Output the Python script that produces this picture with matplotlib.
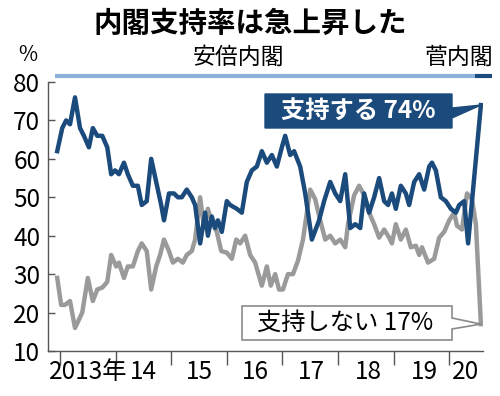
import matplotlib.pyplot as plt
from matplotlib.patches import Polygon

# Nikkei poll: cabinet approval / disapproval (%), by decimal year
support_x = [2012.95, 2013.04, 2013.11, 2013.18, 2013.27, 2013.36, 2013.43, 2013.52,
             2013.59, 2013.67, 2013.76, 2013.85, 2013.92, 2013.99, 2014.06, 2014.15,
             2014.22, 2014.31, 2014.40, 2014.47, 2014.56, 2014.64, 2014.73, 2014.82,
             2014.87, 2014.96, 2015.05, 2015.12, 2015.19, 2015.28, 2015.37, 2015.43,
             2015.52, 2015.61, 2015.66, 2015.73, 2015.79, 2015.84, 2015.91, 2016.00,
             2016.06, 2016.18, 2016.27, 2016.36, 2016.45, 2016.54, 2016.63, 2016.72,
             2016.81, 2016.90, 2016.99, 2017.05, 2017.14, 2017.21, 2017.32, 2017.41,
             2017.53, 2017.66, 2017.75, 2017.86, 2017.95, 2018.04, 2018.13, 2018.22,
             2018.31, 2018.40, 2018.47, 2018.56, 2018.65, 2018.74, 2018.83, 2018.90,
             2018.97, 2019.04, 2019.13, 2019.22, 2019.28, 2019.37, 2019.46, 2019.55,
             2019.64, 2019.69, 2019.76, 2019.85, 2019.94, 2020.03, 2020.12, 2020.18,
             2020.27, 2020.34, 2020.57]
support = [62, 68, 70, 69, 76, 68, 66, 63,
           68, 66, 66, 63, 56, 57, 56, 59,
           56, 53, 53, 48, 49, 60, 54, 48,
           44, 51, 51, 50, 50, 52, 50, 48,
           38, 46, 40, 45, 42, 44, 41, 49,
           48, 47, 46, 54, 57, 58, 62, 59,
           61, 58, 63, 66, 61, 62, 58, 51,
           39, 44, 49, 54, 51, 49, 56, 42,
           43, 42, 51, 46, 50, 55, 49, 48,
           51, 47, 53, 51, 48, 54, 56, 52,
           58, 59, 57, 50, 49, 47, 46, 48,
           49, 38, 74]

oppose_x = [2012.95, 2013.02, 2013.09, 2013.18, 2013.27, 2013.40, 2013.50, 2013.59,
            2013.67, 2013.76, 2013.85, 2013.92, 2014.01, 2014.06, 2014.15, 2014.22,
            2014.31, 2014.40, 2014.47, 2014.56, 2014.64, 2014.73, 2014.80, 2014.87,
            2014.96, 2015.03, 2015.12, 2015.21, 2015.28, 2015.37, 2015.43, 2015.52,
            2015.59, 2015.66, 2015.73, 2015.82, 2015.90, 2016.00, 2016.09, 2016.17,
            2016.24, 2016.33, 2016.42, 2016.51, 2016.63, 2016.72, 2016.79, 2016.87,
            2016.94, 2017.01, 2017.10, 2017.19, 2017.28, 2017.37, 2017.50, 2017.59,
            2017.68, 2017.77, 2017.86, 2017.95, 2018.04, 2018.13, 2018.18, 2018.29,
            2018.38, 2018.47, 2018.56, 2018.65, 2018.74, 2018.83, 2018.92, 2018.97,
            2019.04, 2019.13, 2019.22, 2019.31, 2019.40, 2019.46, 2019.51, 2019.62,
            2019.73, 2019.82, 2019.91, 2020.00, 2020.09, 2020.14, 2020.23, 2020.32,
            2020.41, 2020.48, 2020.57]
oppose = [29, 22, 22, 23, 16, 20, 29, 23,
          26, 26.5, 28, 35, 32, 33, 29, 32,
          32, 36, 38, 36, 26, 32, 35, 39,
          36, 33, 34, 33, 35, 36, 39, 50,
          42, 47, 43.5, 41, 36, 35.6, 34, 39,
          38, 40, 35, 33, 27, 32, 27, 30,
          26, 26, 30, 30, 33.5, 39, 52, 49.5,
          44, 39, 40, 38, 39, 37, 43, 50.5,
          53, 50.5, 46, 43, 39.5, 41.6, 39.5, 38,
          43, 39, 41.6, 37, 37.4, 35, 37, 33,
          34, 39.5, 41, 44, 46, 42.6, 41.6, 51,
          49.5, 43, 17]

years = [2013, 2014, 2015, 2016, 2017, 2018, 2019, 2020]
year_labels = ["2013年", "14", "15", "16", "17", "18", "19", "20"]
label_pos = [2013.5, 2014.5, 2015.5, 2016.52, 2017.53, 2018.54, 2019.55, 2020.3]
abe_span = (2012.91, 2020.46)
suga_span = (2020.46, 2020.77)

NAVY = "#1b4b7c"
GRAY = "#9a9a9a"
LIGHT = "#8db1d8"
AXIS = "#555555"
JP = ["Noto Sans CJK JP", "DejaVu Sans"]
NUM = ["Liberation Sans Narrow", "Noto Sans CJK JP", "DejaVu Sans"]

W, H = 500, 396
fig = plt.figure(figsize=(5, 3.96), dpi=100)
ax = fig.add_axes([48 / W, 1 - 351 / H, 435 / W, 269 / H])


def fpx(x, y):
    # pixel position (from top-left) -> figure fraction
    return (x / W, 1 - y / H)


ax.plot(oppose_x, oppose, color=GRAY, lw=3.2, solid_joinstyle="round")
ax.plot(support_x, support, color=NAVY, lw=3.2, solid_joinstyle="round")

ax.set_xlim(2012.784, 2020.608)
ax.set_ylim(10, 80)

for s in ["top", "right"]:
    ax.spines[s].set_visible(False)
for s in ["left", "bottom"]:
    ax.spines[s].set_color(AXIS)
    ax.spines[s].set_linewidth(1)

ax.set_yticks(range(10, 81, 10))
ax.tick_params(axis="y", direction="in", length=5, width=1, color=AXIS,
               pad=5.5, labelsize=17.5)
ax.set_xticks(years)
ax.set_xticklabels([])
ax.set_xticks(label_pos, minor=True)
ax.set_xticklabels(year_labels, minor=True)
ax.tick_params(axis="x", which="major", direction="out", length=10, width=1, color=AXIS)
ax.tick_params(axis="x", which="minor", length=0, pad=6, labelsize=17.5)
for lab in ax.get_yticklabels() + ax.get_xticklabels(minor=True):
    lab.set_family(NUM)

# cabinet bar above the plot
bar_y = 1 + 6 / 269
ax.plot(abe_span, [bar_y, bar_y], transform=ax.get_xaxis_transform(), color=LIGHT,
        lw=3, solid_capstyle="butt", clip_on=False)
ax.plot(suga_span, [bar_y, bar_y], transform=ax.get_xaxis_transform(), color=NAVY,
        lw=3, solid_capstyle="butt", clip_on=False)

fig.text(*fpx(250, 24), "内閣支持率は急上昇した", ha="center", va="center",
         fontsize=20.5, fontweight="bold", family=JP)
fig.text(*fpx(238, 57), "安倍内閣", ha="center", va="center", fontsize=16.5, family=JP)
fig.text(*fpx(493, 57), "菅内閣", ha="right", va="center", fontsize=16.5, family=JP)
fig.text(*fpx(28, 55), "%", ha="center", va="center", fontsize=15, family=NUM)

# callout boxes with pointers to the last poll
to_fig = fig.transFigure.inverted()


def tip(xs, ys):
    fx, fy = to_fig.transform(ax.transData.transform((xs[-1], ys[-1])))
    return (fx, fy)


blue_box = [fpx(265, 94), fpx(452, 94), fpx(452, 108), tip(support_x, support),
            fpx(452, 118), fpx(452, 128), fpx(265, 128)]
fig.patches.append(Polygon(blue_box, closed=True, transform=fig.transFigure,
                           fc=NAVY, ec=NAVY, lw=1))
fig.text(*fpx(358, 111), "支持する 74%", ha="center", va="center", fontsize=17.5,
         color="white", fontweight="bold", family=JP)

gray_box = [fpx(242, 306), fpx(452, 306), fpx(452, 318), tip(oppose_x, oppose),
            fpx(452, 329), fpx(452, 340), fpx(242, 340)]
fig.patches.append(Polygon(gray_box, closed=True, transform=fig.transFigure,
                           fc="white", ec="#8a8a8a", lw=1.2))
fig.text(*fpx(345, 323), "支持しない 17%", ha="center", va="center", fontsize=17.5,
         color="black", family=JP)

fig.savefig("out.png", dpi=100)
